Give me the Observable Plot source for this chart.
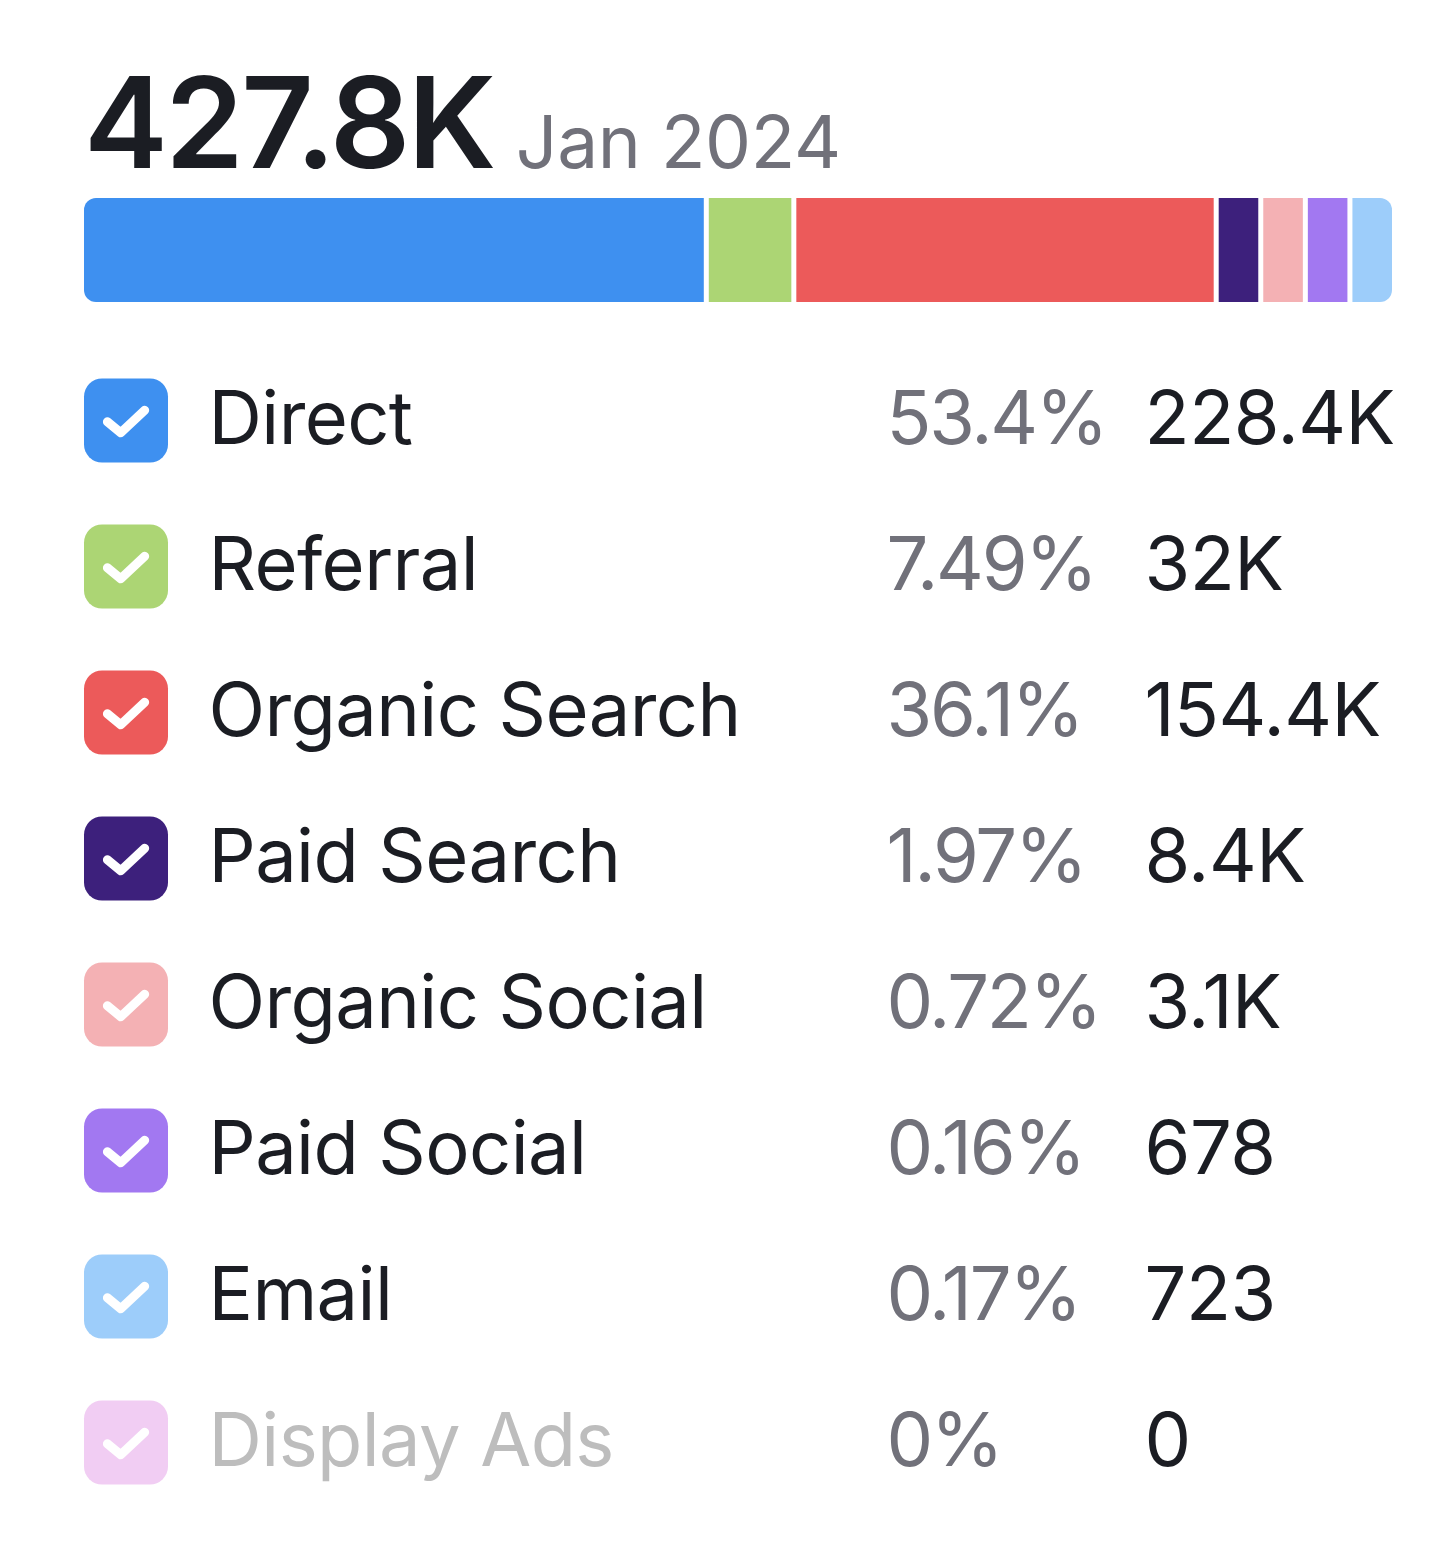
<!DOCTYPE html>
<html>
<head>
<meta charset="utf-8">
<script src="https://cdn.jsdelivr.net/npm/d3@7"></script>
<script src="https://cdn.jsdelivr.net/npm/@observablehq/plot@0.6"></script>
<style>
  html, body { margin: 0; padding: 0; background: #fff; overflow: hidden; }
  body { width: 1454px; height: 1552px; position: relative; font-family: Inter, "Noto Sans", sans-serif; }
  #title { position: absolute; left: 84px; top: 59px; line-height: 1; white-space: nowrap; }
  #total { font-size: 126px; font-weight: 600; color: #1b1d23; letter-spacing: -2.6px; }
  #period { font-size: 73px; font-weight: 400; color: #71717a; margin-left: 22px; letter-spacing: -0.3px; }
  #bar { position: absolute; left: 0; top: 180px; }
  #legend { position: absolute; left: 0; top: 320px; }
  .label-col text { letter-spacing: -0.6px; }
  .share-col text { letter-spacing: -2.2px; }
  .value-col text { letter-spacing: -0.5px; }
</style>
</head>
<body>
<div id="title"><span id="total"></span><span id="period"></span></div>
<div id="bar"></div>
<div id="legend"></div>
<script>
// ---- data ----
const totalLabel = "427.8K";
const periodLabel = "Jan 2024";
const channels = ["Direct", "Referral", "Organic Search", "Paid Search", "Organic Social", "Paid Social", "Email", "Display Ads"];
const visits = [228400, 32000, 154400, 8400, 3100, 678, 723, 0];
const shareLabels = ["53.4%", "7.49%", "36.1%", "1.97%", "0.72%", "0.16%", "0.17%", "0%"];
const visitLabels = ["228.4K", "32K", "154.4K", "8.4K", "3.1K", "678", "723", "0"];
const channelColors = ["#3e90f0", "#acd574", "#ec5a5a", "#3d207c", "#f4b1b4", "#a278f1", "#9dcdfa", "#f1cdf3"];
const enabled = [true, true, true, true, true, true, true, false];

// ---- build ----
document.getElementById("total").textContent = totalLabel;
document.getElementById("period").textContent = periodLabel;

const rows = channels.map((name, i) => ({
  name, value: visits[i], share: shareLabels[i], valueLabel: visitLabels[i],
  color: channelColors[i], enabled: enabled[i]
}));

// stacked bar (small segments get a minimum visible width)
const minShare = 0.0381;
const barRows = rows.filter(d => d.enabled);
const barTotal = d3.sum(barRows, d => d.value);
barRows.forEach(d => { d.shown = Math.max(d.value, minShare * barTotal); });

const W = 1454;
const barMargin = {top: 18, bottom: 18, left: 81.5, right: 59.5};
const inset = 2.5;
const bar = Plot.plot({
  width: W, height: 140,
  marginTop: barMargin.top, marginBottom: barMargin.bottom,
  marginLeft: barMargin.left, marginRight: barMargin.right,
  x: {axis: null, domain: [0, d3.sum(barRows, d => d.shown)]},
  color: {type: "identity"},
  marks: [
    Plot.barX(barRows, Plot.stackX({x: "shown", fill: "color", insetLeft: inset, insetRight: inset, order: null}))
  ]
});
// round the outer ends of the whole bar
{
  const svg = d3.select(bar);
  const clipId = "bar-round-clip";
  svg.insert("defs", ":first-child").append("clipPath").attr("id", clipId).append("rect")
    .attr("x", barMargin.left + inset)
    .attr("y", barMargin.top)
    .attr("width", W - barMargin.left - barMargin.right - 2 * inset)
    .attr("height", 140 - barMargin.top - barMargin.bottom)
    .attr("rx", 12).attr("ry", 12);
  svg.select('g[aria-label="bar"]').attr("clip-path", `url(#${clipId})`);
}
document.getElementById("bar").appendChild(bar);

// legend list
const roundedSquare = {
  draw(context, size) {
    const h = Math.sqrt(size / Math.PI);
    const c = h * 0.43;
    context.moveTo(-h + c, -h);
    context.lineTo(h - c, -h);
    context.arcTo(h, -h, h, -h + c, c);
    context.lineTo(h, h - c);
    context.arcTo(h, h, h - c, h, c);
    context.lineTo(-h + c, h);
    context.arcTo(-h, h, -h, h - c, c);
    context.lineTo(-h, -h + c);
    context.arcTo(-h, -h, -h + c, -h, c);
    context.closePath();
  }
};
const checkMark = {
  draw(context, size) {
    const h = Math.sqrt(size / Math.PI);
    context.moveTo(-0.443 * h, 0.03 * h);
    context.lineTo(-0.126 * h, 0.29 * h);
    context.lineTo(0.445 * h, -0.245 * h);
  }
};

const rowStep = 146.6;
const legendTop = 418 - 320 - rowStep / 2;
const legendHeight = Math.round(legendTop + rowStep * channels.length + 30);
const legend = Plot.plot({
  width: W, height: legendHeight,
  marginTop: legendTop, marginBottom: 30, marginLeft: 0, marginRight: 0,
  y: {type: "band", domain: channels, padding: 0, axis: null},
  color: {type: "identity"},
  style: {fontFamily: "Inter, 'Noto Sans', sans-serif", background: "transparent"},
  marks: [
    Plot.dot(rows, {y: "name", frameAnchor: "left", dx: 125.5, r: 42, symbol: roundedSquare, fill: "color", stroke: null}),
    Plot.dot(rows, {y: "name", frameAnchor: "left", dx: 125.5, r: 42, symbol: checkMark, fill: "none", stroke: "white", strokeWidth: 9, strokeLinecap: "round", strokeLinejoin: "round"}),
    Plot.text(rows, {y: "name", frameAnchor: "left", dx: 208, text: "name", textAnchor: "start", fontSize: 74, className: "label-col", fill: d => d.enabled ? "#1b1d23" : "#bdbdbd"}),
    Plot.text(rows, {y: "name", frameAnchor: "left", dx: 886, text: "share", textAnchor: "start", fontSize: 74, className: "share-col", fill: "#71717a"}),
    Plot.text(rows, {y: "name", frameAnchor: "left", dx: 1144, text: "valueLabel", textAnchor: "start", fontSize: 74, className: "value-col", fill: "#1b1d23"})
  ]
});
document.getElementById("legend").appendChild(legend);
</script>
</body>
</html>
